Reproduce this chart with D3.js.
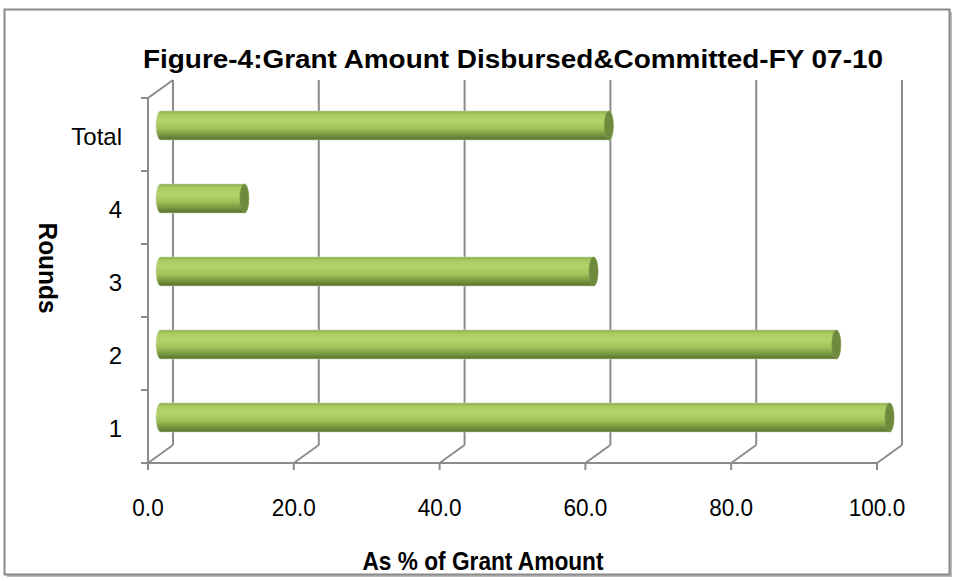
<!DOCTYPE html>
<html><head><meta charset="utf-8">
<script src="https://cdn.jsdelivr.net/npm/d3@7"></script>
<style>body{margin:0;background:#fff}svg{display:block}text{font-family:"Liberation Sans Narrow","Arial Narrow","Liberation Sans",sans-serif}</style>
</head><body><svg id="c" width="955" height="581"></svg>
<script>
const categories = ["1","2","3","4","Total"];
const values = [100.0, 92.7, 59.4, 11.5, 61.5];
const xTicks = [0,20,40,60,80,100];
const titleText = "Figure-4:Grant Amount Disbursed&Committed-FY 07-10";
const xTitle = "As % of Grant Amount";
const yTitle = "Rounds";

const svg = d3.select("#c");
const dx=25, dy=-18;           // depth offset of back wall
const x = d3.scaleLinear().domain([0,100]).range([148,877]);
const y = d3.scaleBand().domain(categories).range([463,98]).paddingInner(0).paddingOuter(0);

// chart border with shadow
svg.append("rect").attr("x",7).attr("y",12).attr("width",945).attr("height",565).attr("fill","#bdbdbd");
svg.append("rect").attr("x",4.5).attr("y",9.5).attr("width",945).attr("height",565).attr("fill","#fff").attr("stroke","#8a8a8a").attr("stroke-width",2);

const grid="#8c8c8c";
const g = svg.append("g");
g.selectAll("line.bg").data(xTicks).join("line")
  .attr("x1",d=>x(d)+dx).attr("x2",d=>x(d)+dx).attr("y1",463+dy).attr("y2",98+dy)
  .attr("stroke",grid).attr("stroke-width",2);
g.selectAll("line.fd").data(xTicks).join("line")
  .attr("x1",d=>x(d)).attr("x2",d=>x(d)+dx).attr("y1",463).attr("y2",463+dy)
  .attr("stroke",grid).attr("stroke-width",2);
g.append("line").attr("x1",x(0)).attr("y1",98).attr("x2",x(0)+dx).attr("y2",98+dy).attr("stroke",grid).attr("stroke-width",2);
g.append("line").attr("x1",x(0)).attr("x2",x(100)).attr("y1",463).attr("y2",463).attr("stroke",grid).attr("stroke-width",2);
g.append("line").attr("x1",x(0)).attr("x2",x(0)).attr("y1",98).attr("y2",463).attr("stroke",grid).attr("stroke-width",2);
g.selectAll("line.xt").data(xTicks).join("line")
  .attr("x1",d=>x(d)).attr("x2",d=>x(d)).attr("y1",463).attr("y2",470).attr("stroke",grid).attr("stroke-width",2);
const yb = categories.map(c=>y(c)).concat([463]);
g.selectAll("line.yt").data(yb).join("line")
  .attr("x1",141).attr("x2",148).attr("y1",d=>d).attr("y2",d=>d).attr("stroke",grid).attr("stroke-width",2);

const defs=svg.append("defs");
const gr=defs.append("linearGradient").attr("id","cyl").attr("x1",0).attr("x2",0).attr("y1",0).attr("y2",1);
[[0,"#8aab4a"],[0.12,"#a9cb62"],[0.35,"#b2d46b"],[0.6,"#a0c258"],[0.82,"#789840"],[1,"#55702d"]]
  .forEach(([o,c])=>gr.append("stop").attr("offset",o).attr("stop-color",c));

const hx=dx/2, hy=dy/2, bh=29, rx=4.5, ry=bh/2;
const bars = svg.append("g");
categories.forEach((c,i)=>{
  const v=values[i];
  const yc=y(c)+y.bandwidth()/2+hy;
  const x0=x(0)+hx, x1=x(v)+hx;
  const t=yc-ry, b=yc+ry;
  bars.append("path")
    .attr("d",`M${x0},${t}L${x1},${t}A${rx},${ry} 0 0 1 ${x1},${b}L${x0},${b}A${rx},${ry} 0 0 1 ${x0},${t}Z`)
    .attr("fill","url(#cyl)").attr("stroke","#c9d6b5").attr("stroke-width",0.6);
  bars.append("ellipse").attr("cx",x1).attr("cy",yc).attr("rx",rx).attr("ry",ry)
    .attr("fill","#6e8b3d").attr("stroke","#7f9a4e").attr("stroke-width",0.6);
});

function narrow(sel,f){ sel.each(function(){ const L=this.getComputedTextLength(); d3.select(this).attr("textLength",L*f).attr("lengthAdjust","spacingAndGlyphs"); }); }

svg.selectAll("text.xl").data(xTicks).join("text")
  .attr("x",d=>x(d)).attr("y",516).attr("text-anchor","middle")
  .attr("font-size",24).attr("fill","#000").text(d=>d.toFixed(1)).call(narrow,0.94);
svg.selectAll("text.yl").data(categories).join("text")
  .attr("x",122).attr("y",d=>y(d)+y.bandwidth()/2+10).attr("text-anchor","end")
  .attr("font-size",24).attr("fill","#000").text(d=>d);

svg.append("text").attr("x",513).attr("y",68).attr("text-anchor","middle")
  .attr("font-size",26).attr("font-weight","bold").attr("textLength",740).attr("lengthAdjust","spacingAndGlyphs").text(titleText);
svg.append("text").attr("x",483).attr("y",570).attr("text-anchor","middle")
  .attr("font-size",25).attr("font-weight","bold").attr("textLength",241).attr("lengthAdjust","spacingAndGlyphs").text(xTitle);
svg.append("text").attr("transform","translate(39,268) rotate(90)").attr("text-anchor","middle")
  .attr("font-size",25).attr("font-weight","bold").attr("textLength",91).attr("lengthAdjust","spacingAndGlyphs").text(yTitle);
</script></body></html>
